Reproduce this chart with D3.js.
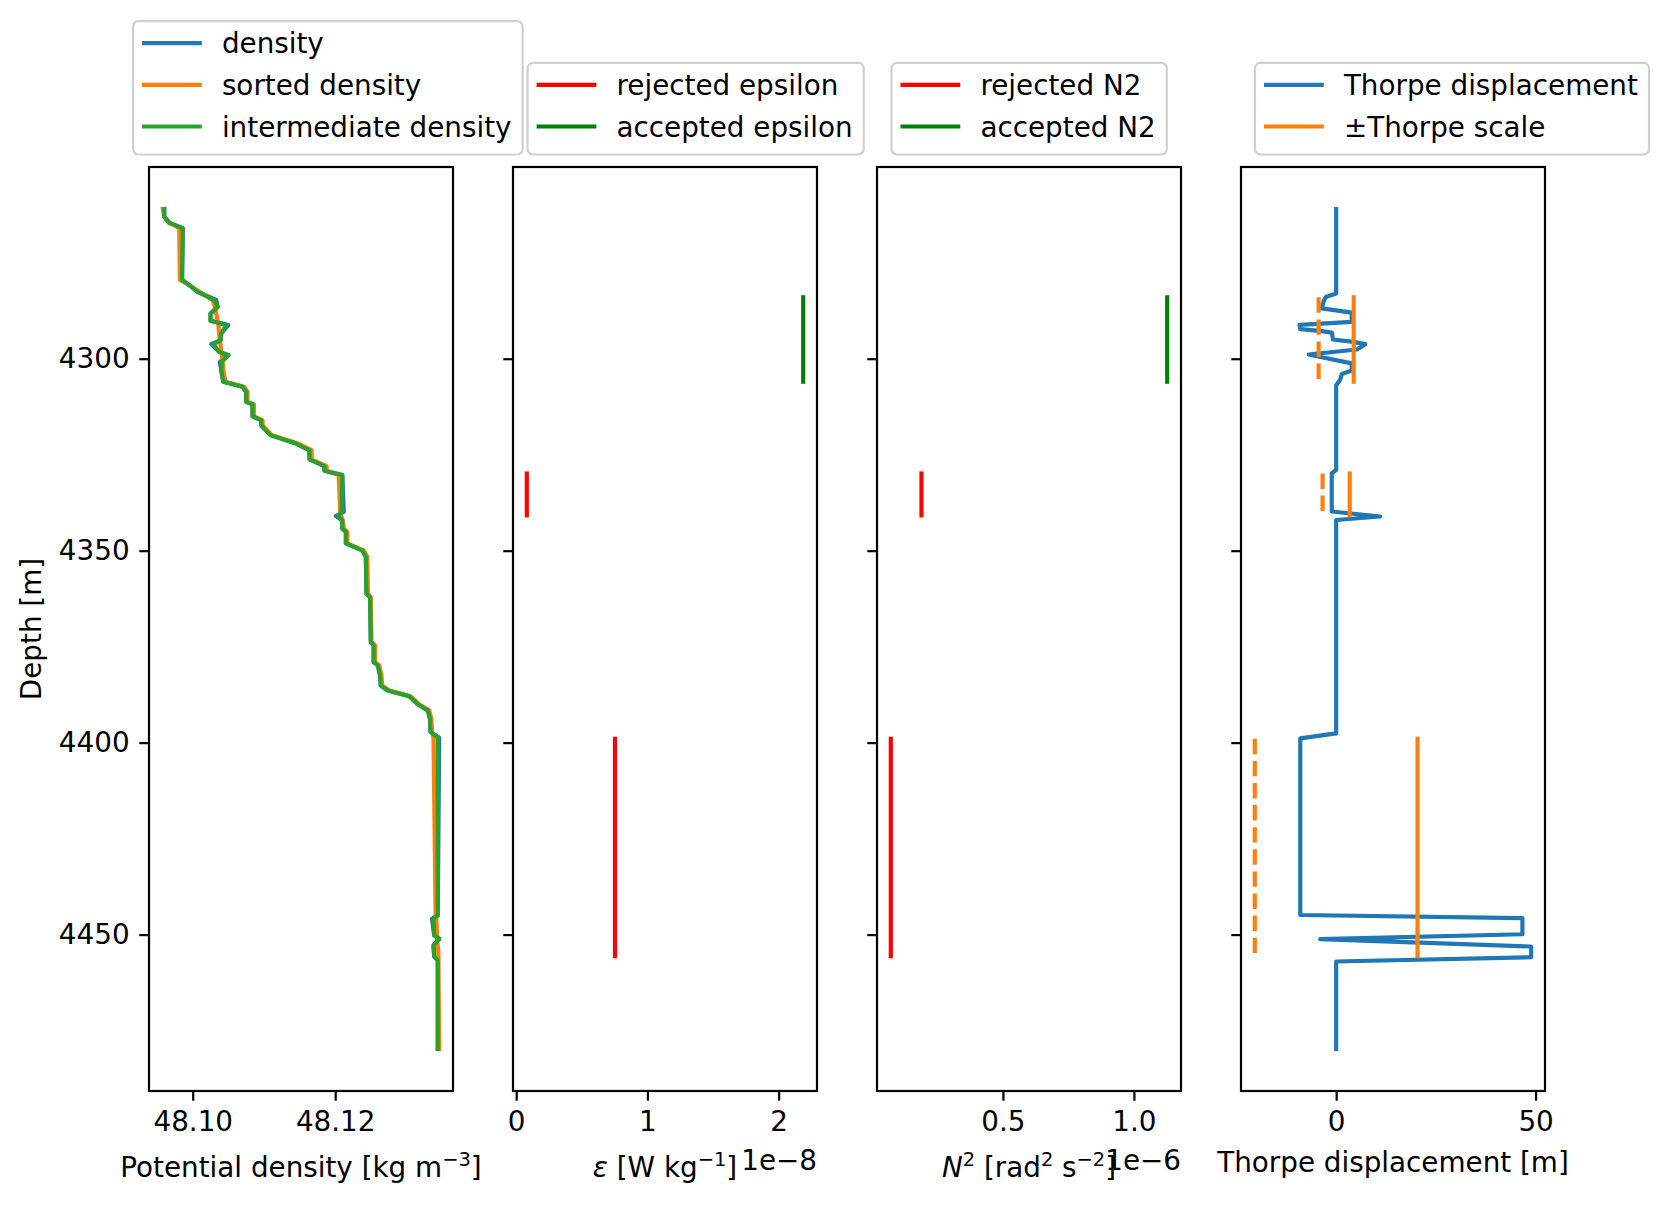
<!DOCTYPE html>
<html>
<head>
<meta charset="utf-8">
<script src="https://cdn.jsdelivr.net/npm/d3@7"></script>
<style>
body { margin: 0; background: #fff; }
text { font-family: "DejaVu Sans", sans-serif; fill: #000; }
</style>
</head>
<body>
<script>
// depth profile [m] and densities [kg m-3]
var depth = [4261.0, 4263.0, 4264.6, 4266.0, 4279.5, 4281.1, 4282.6, 4284.7, 4286.5, 4288.2,
    4290.1, 4291.2, 4293.4, 4295.2, 4296.2, 4298.2, 4299.1, 4300.8, 4303.0, 4306.0,
    4307.3, 4308.6, 4311.2, 4311.9, 4315.0, 4316.0, 4317.3, 4319.9, 4322.1, 4323.8,
    4326.2, 4328.0, 4329.2, 4330.3, 4339.9, 4341.0, 4342.1, 4344.2, 4345.1, 4348.1,
    4349.9, 4351.6, 4361.2, 4362.1, 4373.8, 4374.6, 4379.0, 4379.9, 4382.5, 4385.1,
    4386.4, 4387.9, 4390.0, 4391.6, 4393.7, 4397.2, 4398.7, 4445.0, 4445.9, 4450.2,
    4451.1, 4452.8, 4455.7, 4456.7, 4479.8];

var density = [48.0960, 48.0960, 48.0967, 48.0986, 48.0985, 48.0997, 48.1007, 48.1033, 48.1035, 48.1025,
    48.1025, 48.1050, 48.1040, 48.1039, 48.1026, 48.1037, 48.1050, 48.1038, 48.1040, 48.1043,
    48.1070, 48.1075, 48.1075, 48.1084, 48.1084, 48.1096, 48.1096, 48.1109, 48.1145, 48.1164,
    48.1164, 48.1185, 48.1185, 48.1210, 48.1212, 48.1201, 48.1210, 48.1210, 48.1215, 48.1215,
    48.1238, 48.1243, 48.1244, 48.1249, 48.1250, 48.1254, 48.1254, 48.1260, 48.1263, 48.1264,
    48.1274, 48.1304, 48.1316, 48.1330, 48.1333, 48.1334, 48.1346, 48.1344, 48.1336, 48.1339,
    48.1346, 48.1338, 48.1339, 48.1344, 48.1344];

var sortedDensity = [48.0958, 48.0960, 48.0968, 48.0981, 48.0982, 48.0998, 48.1010, 48.1028, 48.1031, 48.1033,
    48.1035, 48.1036, 48.1037, 48.1038, 48.1039, 48.1040, 48.1041, 48.1042, 48.1043, 48.1046,
    48.1072, 48.1077, 48.1077, 48.1086, 48.1086, 48.1098, 48.1098, 48.1111, 48.1148, 48.1167,
    48.1167, 48.1188, 48.1188, 48.1205, 48.1207, 48.1208, 48.1211, 48.1212, 48.1217, 48.1217,
    48.1240, 48.1245, 48.1246, 48.1250, 48.1251, 48.1256, 48.1256, 48.1262, 48.1265, 48.1266,
    48.1276, 48.1306, 48.1318, 48.1332, 48.1335, 48.1336, 48.1338, 48.1341, 48.1342, 48.1343,
    48.1343, 48.1344, 48.1345, 48.1345, 48.1346];

var intermediateDensity = [48.0960, 48.0960, 48.0967, 48.0986, 48.0985, 48.0997, 48.1007, 48.1030, 48.1035, 48.1025,
    48.1025, 48.1047, 48.1040, 48.1039, 48.1029, 48.1037, 48.1050, 48.1041, 48.1040, 48.1043,
    48.1070, 48.1075, 48.1075, 48.1084, 48.1084, 48.1096, 48.1096, 48.1109, 48.1145, 48.1164,
    48.1164, 48.1185, 48.1185, 48.1210, 48.1209, 48.1204, 48.1210, 48.1210, 48.1215, 48.1215,
    48.1238, 48.1243, 48.1244, 48.1249, 48.1250, 48.1254, 48.1254, 48.1260, 48.1263, 48.1264,
    48.1274, 48.1304, 48.1316, 48.1330, 48.1333, 48.1334, 48.1344, 48.1344, 48.1338, 48.1339,
    48.1346, 48.1338, 48.1339, 48.1344, 48.1344];

// overturning patches
var patchTop = [4284.0, 4329.9, 4399.0];
var patchBottom = [4306.0, 4340.8, 4455.6];
var epsilon = [2.187e-8, 0.081e-8, 0.753e-8];
var n2 = [1.127e-6, 0.189e-6, 0.072e-6];
var accepted = [true, false, false];
var thorpeScale = [4.4, 3.4, 20.4];

// Thorpe displacement profile
var thorpeDepth = [4261.0, 4283.0, 4283.9, 4285.2, 4286.9, 4288.0, 4290.4, 4291.2, 4292.3, 4292.8,
    4293.2, 4295.0, 4295.6, 4296.2, 4297.6, 4298.9, 4299.5, 4301.2, 4303.1, 4304.0,
    4305.5, 4306.9, 4329.0, 4329.8, 4339.8, 4341.1, 4342.0, 4397.6, 4398.9, 4444.9,
    4445.7, 4449.9, 4451.2, 4453.1, 4455.9, 4457.0, 4479.8];
var thorpeDisp = [0, 0, -2.6, -3.2, -3.6, 3.9, 3.9, -9.2, -9.0, -3.6,
    -1.1, -0.8, 4.3, 7.3, 5.2, -6.9, -4.2, 3.9, 3.9, 1.4,
    1.0, 0, 0, -1.1, -1.1, 11.0, 0, 0, -9.0, -9.0,
    46.7, 46.7, -4.0, 48.9, 48.9, 0, 0];

var depthTicks = [4300, 4350, 4400, 4450];
var rhoTicks = [48.10, 48.12];
var epsTicks = [0, 1e-8, 2e-8];
var n2Ticks = [0.5e-6, 1.0e-6];
var thorpeTicks = [0, 50];

//Width and height
var w = 1668, h = 1206;
var fs = 27.8;          // 10 pt at 200 dpi
var lw = 4.17;          // 1.5 pt
var axTop = 167, axBottom = 1091, axW = 304;
var axLeft = [149, 513, 877, 1241];
var legendLeft = [133, 527.6, 891.5, 1255];
var legendBottom = 154.5;

var blue = "#1f77b4", orange = "#ff7f0e", green = "#2ca02c";

var svg = d3.select("body").append("svg")
    .attr("width", w)
    .attr("height", h)
    .style("display", "block");
svg.append("rect").attr("width", w).attr("height", h).attr("fill", "#fff");

function padded(ext) {
    var p = (ext[1] - ext[0]) * 0.05;
    return [ext[0] - p, ext[1] + p];
}

var y = d3.scaleLinear().domain(padded(d3.extent(depth))).range([axTop, axBottom]);

var xRho = d3.scaleLinear()
    .domain(padded(d3.extent(density.concat(sortedDensity, intermediateDensity))))
    .range([axLeft[0], axLeft[0] + axW]);
var xEps = d3.scaleLinear().domain(padded(d3.extent(epsilon))).range([axLeft[1], axLeft[1] + axW]);
var xN2 = d3.scaleLinear().domain(padded(d3.extent(n2))).range([axLeft[2], axLeft[2] + axW]);
var xTh = d3.scaleLinear()
    .domain(padded(d3.extent(thorpeDisp.concat(thorpeScale, thorpeScale.map(function (d) { return -d; })))))
    .range([axLeft[3], axLeft[3] + axW]);

function styleAxis(g) {
    g.select(".domain").remove();
    g.selectAll(".tick line").attr("stroke", "#000").attr("stroke-width", 2.2);
    g.selectAll(".tick text").attr("font-size", fs).attr("font-family", "DejaVu Sans");
}

function drawAxes(i, x, ticks, fmt) {
    var g = svg.append("g");
    g.append("g")
        .attr("transform", "translate(" + axLeft[i] + ",0)")
        .call(d3.axisLeft(y).tickValues(depthTicks).tickSize(9.7).tickPadding(9.7)
            .tickFormat(i === 0 ? d3.format("d") : function () { return ""; }))
        .call(styleAxis);
    g.append("g")
        .attr("transform", "translate(0," + axBottom + ")")
        .call(d3.axisBottom(x).tickValues(ticks).tickSize(9.7).tickPadding(10.5).tickFormat(fmt))
        .call(styleAxis);
    return g;
}

var panels = [];
for (var i = 0; i < 4; i++) {
    panels.push(svg.append("g"));
}

var line = function (x, xs, ys) {
    return d3.line()
        .x(function (d, k) { return x(xs[k]); })
        .y(function (d, k) { return y(ys[k]); })(xs);
};

function drawLine(p, path, color, dash) {
    p.append("path")
        .attr("d", path)
        .attr("fill", "none")
        .attr("stroke", color)
        .attr("stroke-width", lw)
        .attr("stroke-linejoin", "round")
        .attr("stroke-linecap", dash ? "butt" : "square")
        .attr("stroke-dasharray", dash ? "15.4,6.7" : null);
}

// panel 1: density profiles
drawLine(panels[0], line(xRho, density, depth), blue);
drawLine(panels[0], line(xRho, sortedDensity, depth), orange);
drawLine(panels[0], line(xRho, intermediateDensity, depth), green);

// panel 2 & 3: epsilon and N2 per patch
patchTop.forEach(function (t, k) {
    var col = accepted[k] ? "#008000" : "#ff0000";
    drawLine(panels[1], d3.line()([[xEps(epsilon[k]), y(t)], [xEps(epsilon[k]), y(patchBottom[k])]]), col);
    drawLine(panels[2], d3.line()([[xN2(n2[k]), y(t)], [xN2(n2[k]), y(patchBottom[k])]]), col);
});

// panel 4: Thorpe displacement and scale
drawLine(panels[3], line(xTh, thorpeDisp, thorpeDepth), blue);
patchTop.forEach(function (t, k) {
    drawLine(panels[3], d3.line()([[xTh(thorpeScale[k]), y(t)], [xTh(thorpeScale[k]), y(patchBottom[k])]]), orange);
    drawLine(panels[3], d3.line()([[xTh(-thorpeScale[k]), y(t)], [xTh(-thorpeScale[k]), y(patchBottom[k])]]), orange, true);
});

// axes and spines
drawAxes(0, xRho, rhoTicks, d3.format(".2f"));
drawAxes(1, xEps, epsTicks, function (d) { return String(Math.round(d * 1e8)); });
drawAxes(2, xN2, n2Ticks, function (d) { return (d * 1e6).toFixed(1); });
drawAxes(3, xTh, thorpeTicks, d3.format("d"));

axLeft.forEach(function (l) {
    svg.append("rect")
        .attr("x", l).attr("y", axTop)
        .attr("width", axW).attr("height", axBottom - axTop)
        .attr("fill", "none").attr("stroke", "#000").attr("stroke-width", 2.2);
});

// axis labels with mathtext-like pieces
function label(xc, yb, parts) {
    var t = svg.append("text")
        .attr("x", xc).attr("y", yb)
        .attr("text-anchor", "middle")
        .attr("font-size", fs);
    var raised = false;
    parts.forEach(function (p) {
        var s = t.append("tspan").text(p[0]);
        if (p[1] === "i") s.attr("font-style", "italic");
        if (p[1] === "s") {
            s.attr("font-size", fs * 0.7).attr("dy", -11.5);
            raised = true;
        } else if (raised) {
            s.attr("dy", 11.5);
            raised = false;
        }
    });
    return t;
}

var mid = function (i) { return axLeft[i] + axW / 2; };
label(mid(0), 1177, [["Potential density [kg m", "n"], ["\u22123", "s"], ["]", "n"]]);
label(mid(1), 1177, [["\u03b5", "i"], [" [W kg", "n"], ["\u22121", "s"], ["]", "n"]]);
label(mid(2), 1177, [["N", "i"], ["2", "s"], [" [rad", "n"], ["2", "s"], [" s", "n"], ["\u22122", "s"], ["]", "n"]]);
label(mid(3), 1172, [["Thorpe displacement [m]", "n"]]);

// offset texts
svg.append("text").attr("x", axLeft[1] + axW).attr("y", 1170)
    .attr("text-anchor", "end").attr("font-size", fs).text("1e\u22128");
svg.append("text").attr("x", axLeft[2] + axW).attr("y", 1170)
    .attr("text-anchor", "end").attr("font-size", fs).text("1e\u22126");

svg.append("text")
    .attr("transform", "translate(41," + ((axTop + axBottom) / 2) + ") rotate(-90)")
    .attr("text-anchor", "middle")
    .attr("font-size", fs)
    .text("Depth [m]");

// legends
var legends = [
    [["density", blue], ["sorted density", orange], ["intermediate density", green]],
    [["rejected epsilon", "#ff0000"], ["accepted epsilon", "#008000"]],
    [["rejected N2", "#ff0000"], ["accepted N2", "#008000"]],
    [["Thorpe displacement", blue], ["\u00b1Thorpe scale", orange]]
];

legends.forEach(function (items, i) {
    var g = svg.append("g");
    var left = legendLeft[i];
    var n = items.length;
    var lastRow = legendBottom - 28;
    var firstRow = lastRow - (n - 1) * 41.7;
    var boxTop = firstRow - 22;
    var box = g.append("rect")
        .attr("x", left).attr("y", boxTop)
        .attr("height", legendBottom - boxTop)
        .attr("rx", 5.5).attr("ry", 5.5)
        .attr("fill", "#fff").attr("fill-opacity", 0.8)
        .attr("stroke", "#d0d0d0").attr("stroke-width", 2.2);
    var maxW = 0;
    items.forEach(function (it, k) {
        var ry = firstRow + k * 41.7;
        g.append("line")
            .attr("x1", left + 11.1).attr("x2", left + 66.7)
            .attr("y1", ry).attr("y2", ry)
            .attr("stroke", it[1]).attr("stroke-width", lw)
            .attr("stroke-linecap", "square");
        var t = g.append("text")
            .attr("x", left + 88.9).attr("y", ry + 10)
            .attr("font-size", fs)
            .text(it[0]);
        maxW = Math.max(maxW, t.node().getComputedTextLength());
    });
    box.attr("width", 88.9 + maxW + 11.1);
});
</script>
</body>
</html>
